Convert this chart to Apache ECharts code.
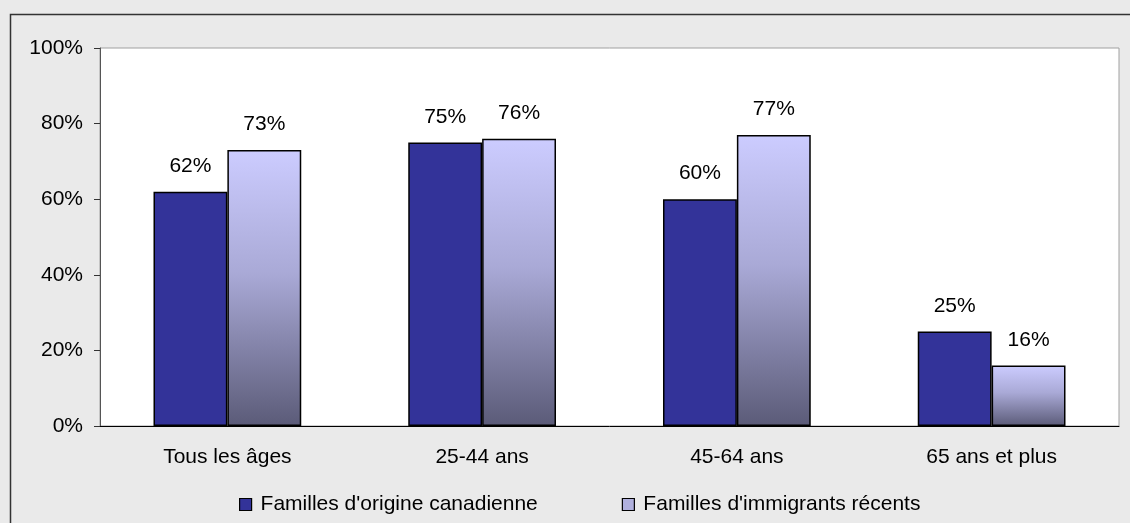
<!DOCTYPE html>
<html><head><meta charset="utf-8">
<script src="https://cdn.jsdelivr.net/npm/echarts@6/dist/echarts.min.js"></script>
<style>html,body{margin:0;padding:0;background:#fff}#c{width:1130px;height:523px}</style>
</head><body><div id="c"></div>
<script>
const categories = ["Tous les âges", "25-44 ans", "45-64 ans", "65 ans et plus"];
const seriesNames = ["Familles d'origine canadienne", "Familles d'immigrants récents"];
const canadienne = [62, 75, 60, 25];
const immigrants = [73, 76, 77, 16];
const yTicks = [0, 20, 40, 60, 80, 100];

const chart = echarts.init(document.getElementById('c'), null, {renderer: 'canvas'});
const font = 'Liberation Sans, Arial, sans-serif';
const fs = 21;
const grad = new echarts.graphic.LinearGradient(0, 0, 0, 1, [
  {offset: 0, color: '#ccccff'},
  {offset: 0.45, color: '#a9a9d6'},
  {offset: 1, color: '#5b5b78'}
]);
chart.setOption({
  backgroundColor: '#eaeaea',
  animation: false,
  graphic: [{
    type: 'rect', left: 8, top: 12, silent: true, z: 100,
    shape: {width: 1140, height: 540},
    style: {fill: 'none', stroke: '#333', lineWidth: 1.5}
  }],
  grid: {left: 100, right: 11, top: 48, bottom: 97, show: true,
         backgroundColor: '#ffffff', borderColor: '#a0a0a0', borderWidth: 1},
  legend: {
    bottom: 8, left: 239, padding: 0, itemWidth: 12, itemHeight: 12, itemGap: 84,
    icon: 'rect',
    textStyle: {fontFamily: font, fontSize: fs, color: '#000', padding: [0, 0, 0, 4]},
    data: [
      {name: seriesNames[0], itemStyle: {color: '#333399', borderColor: '#000', borderWidth: 1.2}},
      {name: seriesNames[1], itemStyle: {color: '#b0b0dd', borderColor: '#000', borderWidth: 1.2}}
    ]
  },
  xAxis: {
    type: 'category', data: categories,
    axisLine: {lineStyle: {color: '#000', width: 1}},
    axisTick: {show: false},
    axisLabel: {fontFamily: font, fontSize: fs, color: '#000', margin: 21}
  },
  yAxis: {
    type: 'value', min: 0, max: 100, interval: 20,
    axisLine: {show: true, lineStyle: {color: '#555', width: 1}},
    axisTick: {show: true, length: 6, lineStyle: {color: '#333'}},
    splitLine: {show: false},
    axisLabel: {fontFamily: font, fontSize: fs, color: '#000', margin: 17,
      formatter: v => yTicks.includes(v) ? v + '%' : ''}
  },
  series: [
    {name: seriesNames[0], type: 'bar', data: canadienne, barWidth: '29%', barGap: '0%',
     itemStyle: {color: '#333399', borderColor: '#000', borderWidth: 1.5},
     label: {show: true, position: 'top', distance: 15, formatter: '{c}%',
       fontFamily: font, fontSize: fs, color: '#000'}},
    {name: seriesNames[1], type: 'bar', data: immigrants, barWidth: '29%', barGap: '0%',
     itemStyle: {color: grad, borderColor: '#000', borderWidth: 1.5},
     label: {show: true, position: 'top', distance: 15, formatter: '{c}%',
       fontFamily: font, fontSize: fs, color: '#000'}}
  ]
});
</script></body></html>
